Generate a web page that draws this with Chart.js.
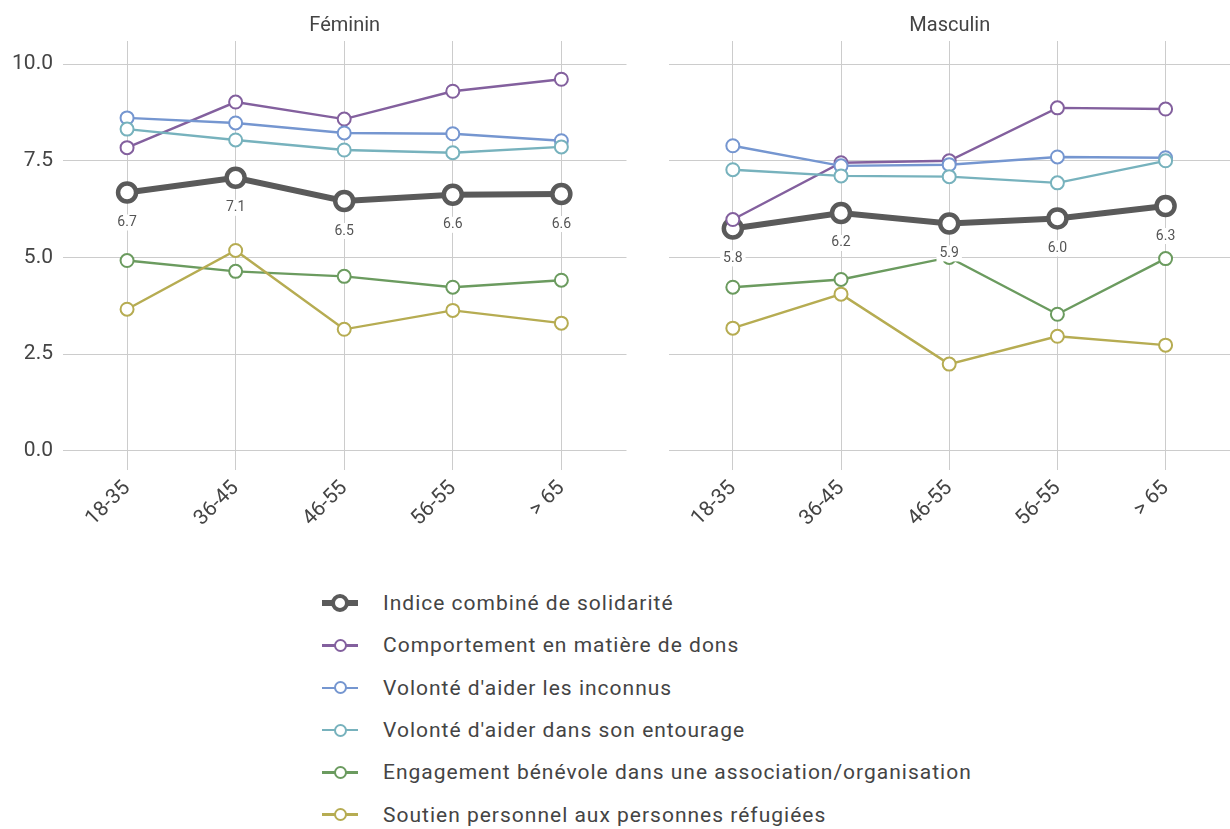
<!DOCTYPE html>
<html>
<head>
<meta charset="utf-8">
<script src="https://cdn.jsdelivr.net/npm/chart.js@4"></script>
<style>
  body { margin: 0; background: #fff; font-family: Roboto, sans-serif; overflow: hidden; }
  #wrap { position: relative; width: 1230px; height: 829px; overflow: hidden; }
  #left { position: absolute; left: 0; top: 0; }
  #right { position: absolute; left: 640px; top: 0; }
  #legend { position: absolute; left: 322px; top: 582px; }
  .item { display: flex; align-items: center; height: 42.3px; color: #444; font-size: 21px; letter-spacing: 1px; }
  .mark { position: relative; width: 36px; height: 20px; margin-right: 25px; }
  .mark .ln { position: absolute; left: 0; right: 0; top: 50%; }
  .mark .pt { position: absolute; left: 50%; top: 50%; border-radius: 50%; background: #fff; box-sizing: border-box; }
</style>
</head>
<body>
<div id="wrap">
  <canvas id="left" width="640" height="560"></canvas>
  <!-- a little wider than the window: the rotated last tick label reserves room on the right -->
  <canvas id="right" width="604" height="560"></canvas>
  <div id="legend"></div>
</div>
<script>
'use strict';

var ageGroups = ['18-35', '36-45', '46-55', '56-55', '> 65'];
var yTicks = [0, 2.5, 5, 7.5, 10];

var seriesNames = [
    'Indice combiné de solidarité',
    'Comportement en matière de dons',
    "Volonté d'aider les inconnus",
    "Volonté d'aider dans son entourage",
    'Engagement bénévole dans une association/organisation',
    'Soutien personnel aux personnes réfugiées'
];
var seriesColors = ['#5a5a5a', '#83609e', '#7596d0', '#77b2bd', '#6b9b5f', '#b6ac52'];

// Féminin
var femIndice = [6.68, 7.06, 6.46, 6.62, 6.64];
var femDons = [7.84, 9.02, 8.58, 9.30, 9.61];
var femInconnus = [8.61, 8.48, 8.22, 8.20, 8.02];
var femEntourage = [8.32, 8.04, 7.78, 7.71, 7.86];
var femBenevole = [4.92, 4.64, 4.51, 4.23, 4.41];
var femRefugies = [3.66, 5.18, 3.14, 3.63, 3.30];

// Masculin
var masIndice = [5.75, 6.15, 5.88, 6.01, 6.33];
var masDons = [5.98, 7.45, 7.50, 8.87, 8.84];
var masInconnus = [7.89, 7.37, 7.40, 7.60, 7.58];
var masEntourage = [7.27, 7.11, 7.09, 6.93, 7.50];
var masBenevole = [4.23, 4.43, 5.00, 3.53, 4.97];
var masRefugies = [3.17, 4.05, 2.24, 2.96, 2.73];

var FONT = 'Roboto, sans-serif';

function buildDatasets(rows) {
    return rows.map(function(values, i) {
        var main = i === 0;
        return {
            label: seriesNames[i],
            data: values.map(function(v, k) { return { x: k, y: v }; }),
            borderColor: seriesColors[i],
            backgroundColor: '#fff',
            pointBackgroundColor: '#fff',
            pointBorderColor: seriesColors[i],
            borderWidth: main ? 6 : 2.4,
            pointRadius: main ? 9 : 6.5,
            pointBorderWidth: main ? 4.5 : 2,
            pointHoverRadius: main ? 9 : 6.5,
            tension: 0
        };
    }).reverse();
}

// value labels under the combined index points
var indexLabels = {
    id: 'indexLabels',
    afterDatasetsDraw: function(chart) {
        var ctx = chart.ctx;
        chart.data.datasets.forEach(function(ds, di) {
            if (ds.label !== seriesNames[0]) return;
            var meta = chart.getDatasetMeta(di);
            ctx.save();
            ctx.font = '14px ' + FONT;
            ctx.textAlign = 'center';
            ctx.textBaseline = 'middle';
            meta.data.forEach(function(pt, k) {
                var txt = ds.data[k].y.toFixed(1);
                var w = ctx.measureText(txt).width;
                var y = pt.y + 30;
                ctx.fillStyle = '#fff';
                ctx.fillRect(pt.x - w / 2 - 3, y - 8, w + 6, 16);
                ctx.fillStyle = '#555';
                ctx.fillText(txt, pt.x, y);
            });
            ctx.restore();
        });
    }
};

function makeChart(id, title, rows, showY) {
    var ctx = document.getElementById(id).getContext('2d');
    return new Chart(ctx, {
        type: 'line',
        data: { datasets: buildDatasets(rows) },
        plugins: [indexLabels],
        options: {
            responsive: false,
            animation: false,
            layout: { padding: { left: 0, right: showY ? 13 : 0, top: 0, bottom: 0 } },
            plugins: {
                legend: { display: false },
                tooltip: { enabled: false },
                title: {
                    display: true,
                    text: title,
                    fullSize: false,
                    color: '#444',
                    font: { family: FONT, size: 20, weight: 'normal' },
                    padding: { top: 14, bottom: 3 }
                }
            },
            scales: {
                x: {
                    type: 'linear',
                    min: -0.59,
                    max: 4.6,
                    afterBuildTicks: function(scale) {
                        scale.ticks = ageGroups.map(function(g, k) { return { value: k }; });
                    },
                    afterFit: function(scale) { scale.height = 90; },
                    grid: { color: '#cccccc', drawTicks: false },
                    border: { display: false },
                    ticks: {
                        color: '#444',
                        font: { family: FONT, size: 21 },
                        minRotation: 45,
                        maxRotation: 45,
                        padding: 6,
                        callback: function(v) { return ageGroups[v]; }
                    }
                },
                y: {
                    min: -0.5,
                    max: 10.6,
                    afterBuildTicks: function(scale) {
                        scale.ticks = yTicks.map(function(v) { return { value: v }; });
                    },
                    afterFit: function(scale) { scale.width = showY ? 63 : 29; },
                    grid: { color: '#cccccc', drawTicks: false },
                    border: { display: false },
                    ticks: {
                        display: showY,
                        color: '#444',
                        padding: 10,
                        font: { family: FONT, size: 21 },
                        callback: function(v) { return v.toFixed(1); }
                    }
                }
            }
        }
    });
}

makeChart('left', 'Féminin',
    [femIndice, femDons, femInconnus, femEntourage, femBenevole, femRefugies], true);
makeChart('right', 'Masculin',
    [masIndice, masDons, masInconnus, masEntourage, masBenevole, masRefugies], false);

// legend
var legend = document.getElementById('legend');
seriesNames.forEach(function(name, i) {
    var main = i === 0;
    var size = main ? 18 : 13;
    var item = document.createElement('div');
    item.className = 'item';
    item.innerHTML =
        '<div class="mark">' +
        '<div class="ln" style="height:' + (main ? 6 : 2.4) + 'px;margin-top:-' + (main ? 3 : 1.2) + 'px;background:' + seriesColors[i] + '"></div>' +
        '<div class="pt" style="width:' + size + 'px;height:' + size + 'px;margin-left:-' + size / 2 + 'px;margin-top:-' + size / 2 + 'px;border:' + (main ? 4.5 : 2) + 'px solid ' + seriesColors[i] + '"></div>' +
        '</div><span>' + name + '</span>';
    legend.appendChild(item);
});
</script>
</body>
</html>
